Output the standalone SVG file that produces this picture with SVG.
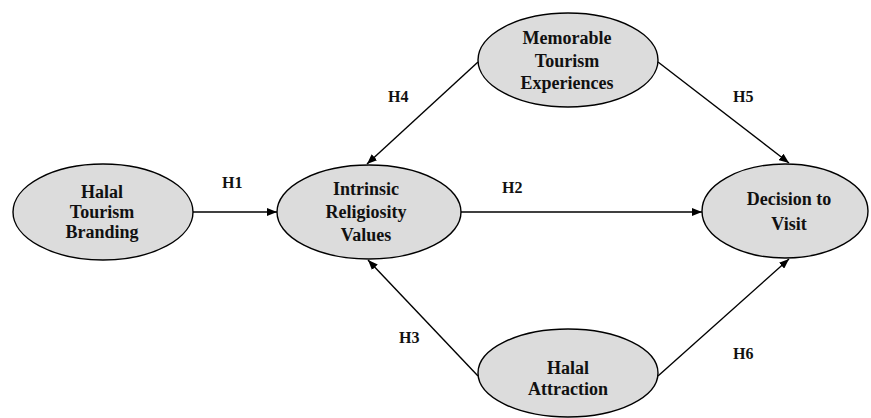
<svg xmlns="http://www.w3.org/2000/svg" width="871" height="418" viewBox="0 0 871 418">
<style>
.node ellipse{fill:#dcdcdc;stroke:#000;stroke-width:1.4}
.node text{font-family:"Liberation Serif","Times New Roman",serif;font-weight:bold;font-size:18px;text-anchor:middle;fill:#111}
.edge{stroke:#000;stroke-width:1.4;fill:none;marker-end:url(#ah)}
.lbl{font-family:"Liberation Serif","Times New Roman",serif;font-size:16px;font-weight:bold;fill:#111}
</style>
<defs>
<marker id="ah" viewBox="0 0 10 8" refX="10" refY="4" markerWidth="10" markerHeight="8" markerUnits="userSpaceOnUse" orient="auto">
<path d="M0,0 L10,4 L0,8 Z" fill="#000"/>
</marker>
</defs>
<rect width="871" height="418" fill="#fff"/>
<g id="connectors">
<line class="edge" x1="193" y1="212" x2="277" y2="212"/>
<line class="edge" x1="460" y1="212" x2="702" y2="212"/>
<line class="edge" x1="478" y1="62" x2="367" y2="164"/>
<line class="edge" x1="658" y1="62" x2="789" y2="163"/>
<line class="edge" x1="478" y1="376" x2="368" y2="260"/>
<line class="edge" x1="658" y1="376" x2="789" y2="259"/>
<text class="lbl" x="222" y="188">H1</text>
<text class="lbl" x="502" y="193">H2</text>
<text class="lbl" x="399" y="343">H3</text>
<text class="lbl" x="388" y="102">H4</text>
<text class="lbl" x="733" y="102">H5</text>
<text class="lbl" x="733" y="359">H6</text>
</g>
<g id="node-branding" class="node">
<ellipse cx="103" cy="212" rx="90" ry="48"/>
<text x="102" y="198">Halal</text>
<text x="102" y="218">Tourism</text>
<text x="102" y="238">Branding</text>
</g>
<g id="node-religiosity" class="node">
<ellipse cx="369" cy="212" rx="92" ry="47"/>
<text x="366" y="195">Intrinsic</text>
<text x="366" y="218">Religiosity</text>
<text x="366" y="241">Values</text>
</g>
<g id="node-memorable" class="node">
<ellipse cx="568" cy="60" rx="90" ry="47"/>
<text x="567" y="44">Memorable</text>
<text x="567" y="67">Tourism</text>
<text x="567" y="89">Experiences</text>
</g>
<g id="node-decision" class="node">
<ellipse cx="785" cy="211" rx="83" ry="47"/>
<text x="789" y="205">Decision to</text>
<text x="789" y="230">Visit</text>
</g>
<g id="node-attraction" class="node">
<ellipse cx="568" cy="373" rx="90" ry="44"/>
<text x="568" y="374">Halal</text>
<text x="568" y="395">Attraction</text>
</g>
</svg>
